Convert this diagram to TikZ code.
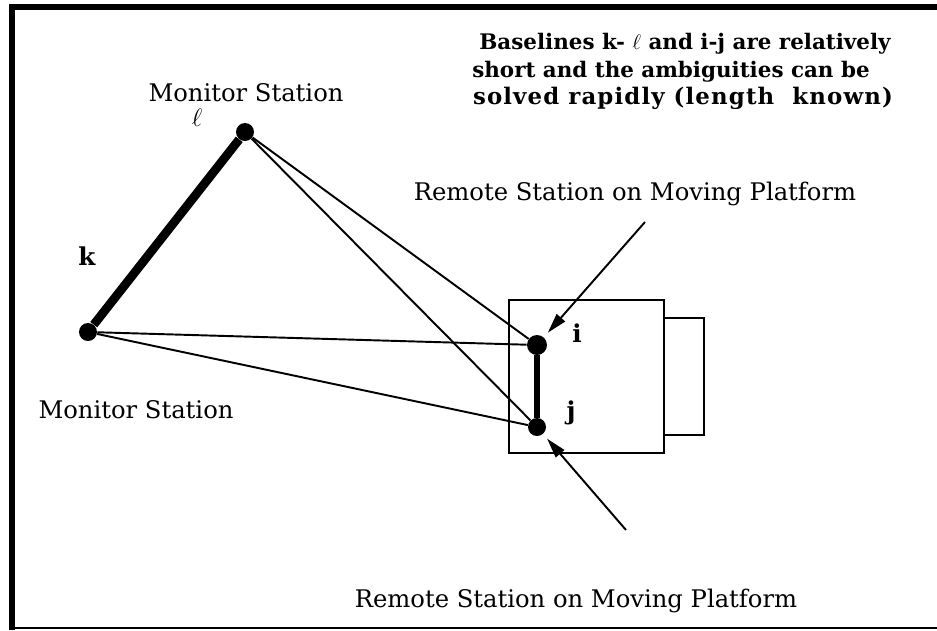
\documentclass[tikz,border=0pt]{standalone}
\usepackage{fontspec}
\setmainfont{DejaVu Serif}
\usetikzlibrary{arrows.meta}

\tikzset{
  stazione/.style={circle, fill=black, inner sep=0pt, minimum size=0.36cm},
  testo/.style={anchor=base, inner sep=0pt, font=\fontsize{13.8}{16}\selectfont},
  nota/.style={anchor=base, inner sep=0pt, font=\fontsize{12.2}{15}\selectfont\bfseries},
  lettera/.style={anchor=base, inner sep=0pt, font=\fontsize{14}{16}\selectfont\bfseries},
  freccia/.style={line width=1.1pt, -{Triangle[length=0.4cm, width=0.22cm]}, shorten >=0.12cm},
}

\begin{document}
\begin{tikzpicture}[x=0.02cm, y=-0.02cm]
        \useasboundingbox (0,0) rectangle (937,630);

        % Cornice
        \draw[line width=3pt] (12,630) -- (12,7) -- (937,7);
        \draw[line width=1pt] (12,628) -- (937,628);

        % Stazioni
        \node[stazione] (l) at (245,132) {};
        \node[stazione] (k) at (88,332) {};
        \node[stazione, minimum size=0.4cm] (i) at (537,345) {};
        \node[stazione] (j) at (537,427) {};

        % Piattaforma mobile
        \draw[line width=1.3pt] (509,300) rectangle (664,453);
        \draw[line width=1.3pt] (664,318) rectangle (704,435);

        % Linee di base
        \draw[line width=5pt] (k) -- (l);
        \draw[line width=3.4pt] (i) -- (j);
        \draw[line width=1.1pt] (l) -- (i);
        \draw[line width=1.1pt] (l) -- (j);
        \draw[line width=1.1pt] (k) -- (i);
        \draw[line width=1.1pt] (k) -- (j);

        % Frecce verso le stazioni remote
        \coordinate (codaI) at (645,222);
        \coordinate (codaJ) at (626,530);
        \draw[freccia] (codaI) -- (i);
        \draw[freccia] (codaJ) -- (j);

        % Etichette
        \node[testo] (monL) at (246,101) {Monitor Station};
        \node[testo] (monK) at (136,418) {Monitor Station};
        \node[anchor=base, inner sep=0pt, font=\fontsize{14}{18}\selectfont] (labL) at (197,126) {$\ell$};
        \node[lettera] (labK) at (87,265) {k};
        \node[lettera] (labI) at (577,342) {i};
        \node[lettera] (labJ) at (571,419) {j};
        \node[testo] (remI) at (635,200) {Remote Station on Moving Platform};
        \node[testo] (remJ) at (576,607) {Remote Station on Moving Platform};

        % Nota sulle linee di base
        \node[nota] (nota1) at (685,49) {Baselines k- $\ell$ and i-j are relatively};
        \node[nota] (nota2) at (671,77) {short and the ambiguities can be};
        \node[nota, font=\fontsize{13}{15}\selectfont\bfseries\addfontfeature{LetterSpace=5}] (nota3) at (683,104) {solved rapidly (length\ \ known)};

    \end{tikzpicture}
\end{document}
